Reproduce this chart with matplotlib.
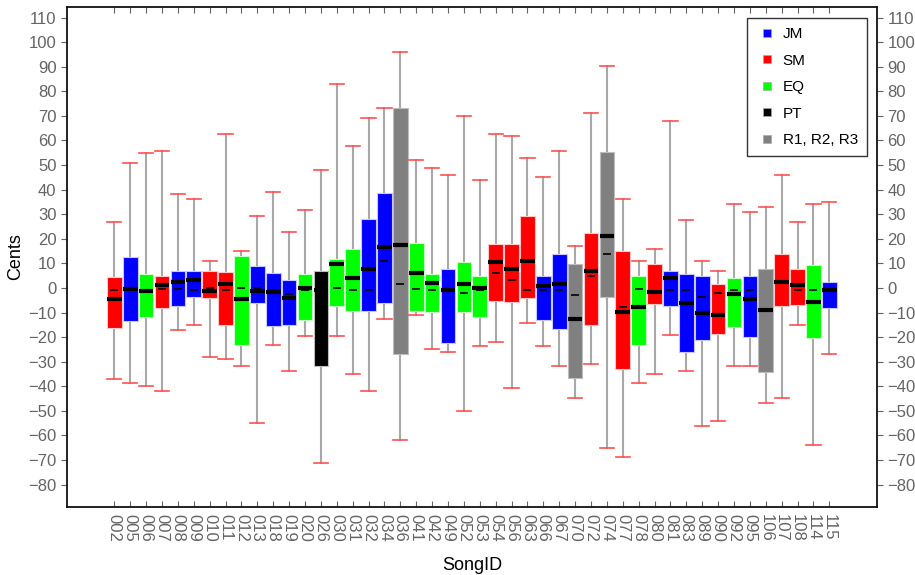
import matplotlib
matplotlib.use('Agg')
import matplotlib.pyplot as plt
from matplotlib.lines import Line2D

plt.rcParams['font.family'] = ['Liberation Sans', 'DejaVu Sans']

## data
song_ids = ['002', '005', '006', '007', '008', '009', '010', '011', '012', '013',
            '018', '019', '020', '026', '030', '031', '032', '034', '036', '041',
            '042', '049', '052', '053', '054', '056', '063', '066', '067', '070',
            '072', '074', '077', '078', '080', '081', '083', '089', '090', '092',
            '095', '106', '107', '108', '114', '115']
groups = ['SM', 'JM', 'EQ', 'SM', 'JM', 'JM', 'SM', 'SM', 'EQ', 'JM',
          'JM', 'JM', 'EQ', 'PT', 'EQ', 'EQ', 'JM', 'JM', 'R', 'EQ',
          'EQ', 'JM', 'EQ', 'EQ', 'SM', 'SM', 'SM', 'JM', 'JM', 'R',
          'SM', 'R', 'SM', 'EQ', 'SM', 'JM', 'JM', 'JM', 'SM', 'EQ',
          'JM', 'R', 'SM', 'SM', 'EQ', 'JM']
whisker_hi = [27.0, 50.9, 55.0, 55.9, 38.2, 36.1, 11.0, 62.8, 15.1, 29.2,
              39.0, 22.9, 31.9, 48.0, 83.0, 57.9, 69.1, 73.1, 95.8, 52.1,
              48.9, 45.9, 69.8, 43.8, 62.8, 62.0, 53.0, 45.3, 55.7, 17.1,
              71.1, 90.1, 36.1, 11.0, 15.8, 67.8, 27.7, 11.0, 7.0, 34.0,
              31.0, 32.8, 45.9, 27.0, 34.0, 34.8]
q3 = [4.5, 12.5, 5.7, 4.9, 7.0, 7.0, 7.0, 6.5, 13.1, 9.0,
      6.2, 3.3, 5.7, 7.0, 11.9, 15.7, 28.0, 38.8, 73.3, 18.1,
      5.7, 7.8, 10.6, 4.8, 17.7, 17.7, 29.2, 4.8, 13.9, 9.9,
      22.2, 55.2, 15.1, 4.8, 9.9, 7.0, 5.7, 4.8, 1.6, 4.2,
      4.8, 7.7, 13.9, 7.7, 9.4, 2.3]
medians = [-4.6, -0.4, -1.3, 1.2, 2.3, 3.2, -1.3, 1.6, -4.6, -1.3,
           -1.7, -4.2, 0.0, -1.0, 9.7, 4.1, 7.7, 16.7, 17.3, 6.1,
           1.9, -0.9, 1.6, 0.0, 10.6, 7.7, 11.0, 0.9, 1.6, -12.8,
           7.0, 21.0, -9.6, -7.8, -1.7, 4.1, -6.2, -10.0, -10.9, -2.6,
           -4.6, -8.9, 2.3, 1.2, -5.8, -0.9]
means = [-1.0, 0.0, -1.0, -0.6, -0.4, -1.0, 0.0, -1.0, 0.0, 0.0,
         -1.0, -2.6, -0.9, 0.0, 0.0, -0.9, -0.9, 11.0, 1.6, -0.4,
         -0.9, -0.9, -2.0, -0.9, 6.1, 3.2, -0.9, -0.9, -0.9, -3.0,
         4.8, 13.9, -7.8, -0.4, -1.3, -0.9, -0.9, -3.8, -2.0, -0.9,
         -0.9, -8.9, 2.3, -0.9, -0.9, -0.9]
q1 = [-16.1, -13.5, -12.0, -8.0, -7.3, -3.5, -3.9, -15.1, -23.4, -6.1,
      -15.5, -15.1, -13.1, -31.8, -7.3, -9.3, -9.3, -6.0, -26.9, -9.3,
      -9.7, -22.4, -9.7, -12.0, -5.2, -5.7, -3.9, -13.1, -16.7, -36.7,
      -15.1, -3.5, -33.1, -23.4, -6.4, -7.3, -26.0, -21.2, -18.6, -15.7,
      -19.9, -34.3, -7.3, -6.8, -20.3, -8.0]
whisker_lo = [-37.2, -38.8, -39.9, -42.1, -17.0, -14.9, -28.0, -28.9, -31.8, -54.9,
              -23.1, -33.8, -19.7, -71.0, -19.7, -35.1, -42.1, -12.8, -61.8, -10.9,
              -24.7, -26.0, -49.9, -23.8, -21.9, -40.8, -14.2, -23.8, -31.8, -44.8,
              -30.9, -64.9, -68.8, -38.8, -35.1, -19.0, -33.8, -56.0, -54.0, -31.8,
              -31.8, -46.9, -44.8, -14.9, -63.9, -26.9]

group_colors = {'JM': '#0000ff', 'SM': '#ff0000', 'EQ': '#00ff00',
                'PT': '#000000', 'R': '#808080'}
edge_colors = {'JM': '#c8c8ff', 'SM': '#ffc8c8', 'EQ': '#c8ffc8',
               'PT': '#bdbdbd', 'R': '#bdbdbd'}
legend_names = [('JM', 'JM'), ('SM', 'SM'), ('EQ', 'EQ'), ('PT', 'PT'), ('R', 'R1, R2, R3')]

stats = [
    {'label': s, 'whislo': lo, 'q1': a, 'med': m, 'mean': mu, 'q3': b, 'whishi': hi, 'fliers': []}
    for s, lo, a, m, mu, b, hi in zip(song_ids, whisker_lo, q1, medians, means, q3, whisker_hi)
]

fig = plt.figure(figsize=(9.15, 5.75), dpi=100)
ax = fig.add_axes([67 / 915, 1 - 507 / 575, (877 - 67) / 915, (507 - 7) / 575])

bp = ax.bxp(
    stats,
    positions=range(len(stats)),
    widths=0.92,
    patch_artist=True,
    showmeans=True,
    showfliers=False,
    manage_ticks=False,
    boxprops=dict(linewidth=0.8),
    whiskerprops=dict(color='#a8a8a8', linewidth=1.5),
    capprops=dict(color='#ff5050', linewidth=1.2),
    capwidths=0.9,
    medianprops=dict(color='black', linewidth=3.0, solid_capstyle='butt'),
    meanprops=dict(marker='_', markeredgecolor='black', markersize=6, markeredgewidth=1.2),
)
for box, g in zip(bp['boxes'], groups):
    box.set_facecolor(group_colors[g])
    box.set_edgecolor(edge_colors[g])
for w in bp['whiskers']:
    w.set_zorder(1)

ax.set_xlim(-2.98, 48.0)
ax.set_ylim(-89.1, 114.3)
ax.set_yticks(range(-80, 111, 10))
ax.set_xticks(range(len(song_ids)))
ax.set_xticklabels(song_ids, rotation=-90, fontsize=12, color='#646464')

ax.tick_params(axis='y', which='both', left=True, right=True, labelleft=True, labelright=True,
               direction='out', length=4, labelsize=12, labelcolor='#646464', color='#646464')
ax.tick_params(axis='x', top=True, bottom=True, direction='in', length=4, color='#646464', pad=5)
for sp in ax.spines.values():
    sp.set_linewidth(1.3)
    sp.set_color('#111111')

ax.set_xlabel('SongID', fontsize=13, labelpad=11)
ax.set_ylabel('Cents', fontsize=13, labelpad=3)

handles = [Line2D([], [], linestyle='none', marker='s', markersize=6,
                  markerfacecolor=group_colors[k], markeredgecolor='#aaaaaa', markeredgewidth=0.5)
           for k, _ in legend_names]
leg = ax.legend(handles, [n for _, n in legend_names], loc='upper right',
                bbox_to_anchor=(1 - 10 / 810, 1 - 11 / 500), borderaxespad=0,
                fontsize=11, frameon=True, fancybox=False,
                handlelength=1.5, handletextpad=0.25, labelspacing=0.82,
                borderpad=0.6)
leg.get_frame().set_edgecolor('black')
leg.get_frame().set_linewidth(1.0)

plt.savefig('out.png', dpi=100)
